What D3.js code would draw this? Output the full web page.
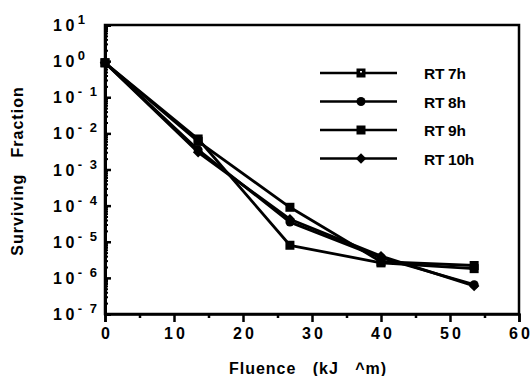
<!DOCTYPE html>
<html>
<head>
<meta charset="utf-8">
<script src="https://cdn.jsdelivr.net/npm/d3@7"></script>
<style>
  body { margin: 0; background: #fff; }
  svg { display: block; font-family: "Liberation Sans", Arial, sans-serif; }
</style>
</head>
<body>
<svg id="chart" width="532" height="376"></svg>
<script>
// data
var fluence = [0, 13.5, 26.8, 40, 53.5];
var seriesNames = ["RT 7h", "RT 8h", "RT 9h", "RT 10h"];
var rt7 = [0.9, 6.0e-3, 9.0e-5, 2.8e-6, 2.2e-6];
var rt8 = [0.9, 3.5e-3, 3.5e-5, 3.6e-6, 6.5e-7];
var rt9 = [0.9, 7.0e-3, 8.0e-6, 2.6e-6, 1.8e-6];
var rt10 = [0.9, 3.0e-3, 4.2e-5, 4.0e-6, 6.0e-7];
var xTicks = [0, 10, 20, 30, 40, 50, 60];
var yExps = [1, 0, -1, -2, -3, -4, -5, -6, -7];

var allSeries = [rt7, rt8, rt9, rt10];
var shapes = ["openSquare", "circle", "square", "diamond"];

var svg = d3.select("#chart");
// plot box (note: "top" is reserved on window, so use other names)
var pL = 105, pT = 25, pR = 519, pB = 314;

var x = d3.scaleLinear().domain([0, 60]).range([pL, pR]);
var y = d3.scaleLog().domain([1e-7, 10]).range([pB, pT]);

// frame
svg.append("rect")
    .attr("x", pL).attr("y", pT)
    .attr("width", pR - pL).attr("height", pB - pT)
    .attr("fill", "none").attr("stroke", "#000").attr("stroke-width", 2.5);

// y minor ticks (inside)
var minors = [];
yExps.forEach(function(e) {
    if (e > -7) {
        for (var k = 2; k <= 9; k++) minors.push(k * Math.pow(10, e - 1));
    }
});
svg.append("g")
    .attr("transform", "translate(" + pL + ",0)")
    .call(d3.axisLeft(y).tickValues(minors).tickSize(-3).tickFormat(""))
    .call(function(g) { g.select(".domain").remove(); })
    .selectAll("line").attr("stroke-width", 2);

// y major ticks
svg.append("g")
    .attr("transform", "translate(" + pL + ",0)")
    .call(d3.axisLeft(y).tickValues(yExps.map(function(e) { return Math.pow(10, e); }))
        .tickSize(-6).tickFormat(""))
    .call(function(g) { g.select(".domain").attr("stroke-width", 3); })
    .selectAll("line").attr("stroke-width", 2.5);

// y labels 10^n
var ylab = svg.append("g").attr("font-weight", "bold");
yExps.forEach(function(e) {
    var yy = y(Math.pow(10, e));
    var t = ylab.append("text")
        .attr("x", 53).attr("y", yy + 6)
        .attr("font-size", 16).attr("letter-spacing", 3.5);
    t.append("tspan").text("10");
    t.append("tspan")
        .attr("dx", 0).attr("dy", -7)
        .attr("font-size", 13).attr("letter-spacing", 2)
        .text(e < 0 ? "- " + (-e) : String(e));
});

// x axis ticks (outside)
svg.append("g")
    .attr("transform", "translate(0," + pB + ")")
    .call(d3.axisBottom(x).tickValues([5, 15, 25, 35, 45, 55]).tickSize(4).tickFormat(""))
    .call(function(g) { g.select(".domain").remove(); })
    .selectAll("line").attr("stroke-width", 2.5);

svg.append("g")
    .attr("transform", "translate(0," + pB + ")")
    .call(d3.axisBottom(x).tickValues(xTicks).tickSize(8).tickPadding(6))
    .call(function(g) { g.select(".domain").attr("stroke-width", 2.5); })
    .call(function(g) {
        g.selectAll("line").attr("stroke-width", 2.5);
        g.selectAll("text")
            .attr("font-size", 16).attr("font-weight", "bold")
            .attr("letter-spacing", 3).attr("dx", 1.5)
            .attr("fill", "#000").attr("font-family", "Liberation Sans, Arial, sans-serif");
    });

// axis titles
svg.append("text")
    .attr("x", 308).attr("y", 374)
    .attr("text-anchor", "middle")
    .attr("font-size", 16).attr("font-weight", "bold").attr("letter-spacing", 1)
    .attr("xml:space", "preserve")
    .text("Fluence   (kJ   ^m)");

svg.append("text")
    .attr("transform", "translate(23,171) rotate(-90)")
    .attr("text-anchor", "middle")
    .attr("font-size", 16).attr("font-weight", "bold").attr("letter-spacing", 1)
    .attr("xml:space", "preserve")
    .text("Surviving   Fraction");

// markers; the tiny hole of the "open" square only shows in the legend
function drawMarker(g, shape, cx, cy, hole) {
    if (shape === "circle") {
        g.append("circle").attr("cx", cx).attr("cy", cy).attr("r", 4.5).attr("fill", "#000");
    } else if (shape === "diamond") {
        g.append("path")
            .attr("d", d3.symbol().type(d3.symbolDiamond2).size(70)())
            .attr("transform", "translate(" + cx + "," + cy + ")")
            .attr("fill", "#000");
    } else {
        g.append("rect").attr("x", cx - 4.5).attr("y", cy - 4.5)
            .attr("width", 9).attr("height", 9).attr("fill", "#000");
        if (shape === "openSquare" && hole) {
            g.append("rect").attr("x", cx - 1).attr("y", cy - 2)
                .attr("width", 2).attr("height", 1.5).attr("fill", "#fff");
        }
    }
}

var line = d3.line()
    .x(function(d, i) { return x(fluence[i]); })
    .y(function(d) { return y(d); });

var plot = svg.append("g");
allSeries.forEach(function(s) {
    plot.append("path")
        .datum(s)
        .attr("d", line)
        .attr("fill", "none")
        .attr("stroke", "#000")
        .attr("stroke-width", 2.8)
        .attr("stroke-linejoin", "round");
});
allSeries.forEach(function(s, si) {
    s.forEach(function(v, i) {
        drawMarker(plot, shapes[si], x(fluence[i]), y(v), false);
    });
});

// legend
var legend = svg.append("g");
seriesNames.forEach(function(name, i) {
    var ly = 73 + i * 28.5;
    legend.append("line")
        .attr("x1", 320).attr("x2", 397)
        .attr("y1", ly).attr("y2", ly)
        .attr("stroke", "#000").attr("stroke-width", 2.5);
    drawMarker(legend, shapes[i], 361, ly, true);
    legend.append("text")
        .attr("x", 424).attr("y", ly + 6)
        .attr("font-size", 15.5).attr("font-weight", "bold")
        .attr("letter-spacing", -0.3)
        .attr("font-family", "Liberation Sans, Arial, sans-serif")
        .text(name);
});
</script>
</body>
</html>
